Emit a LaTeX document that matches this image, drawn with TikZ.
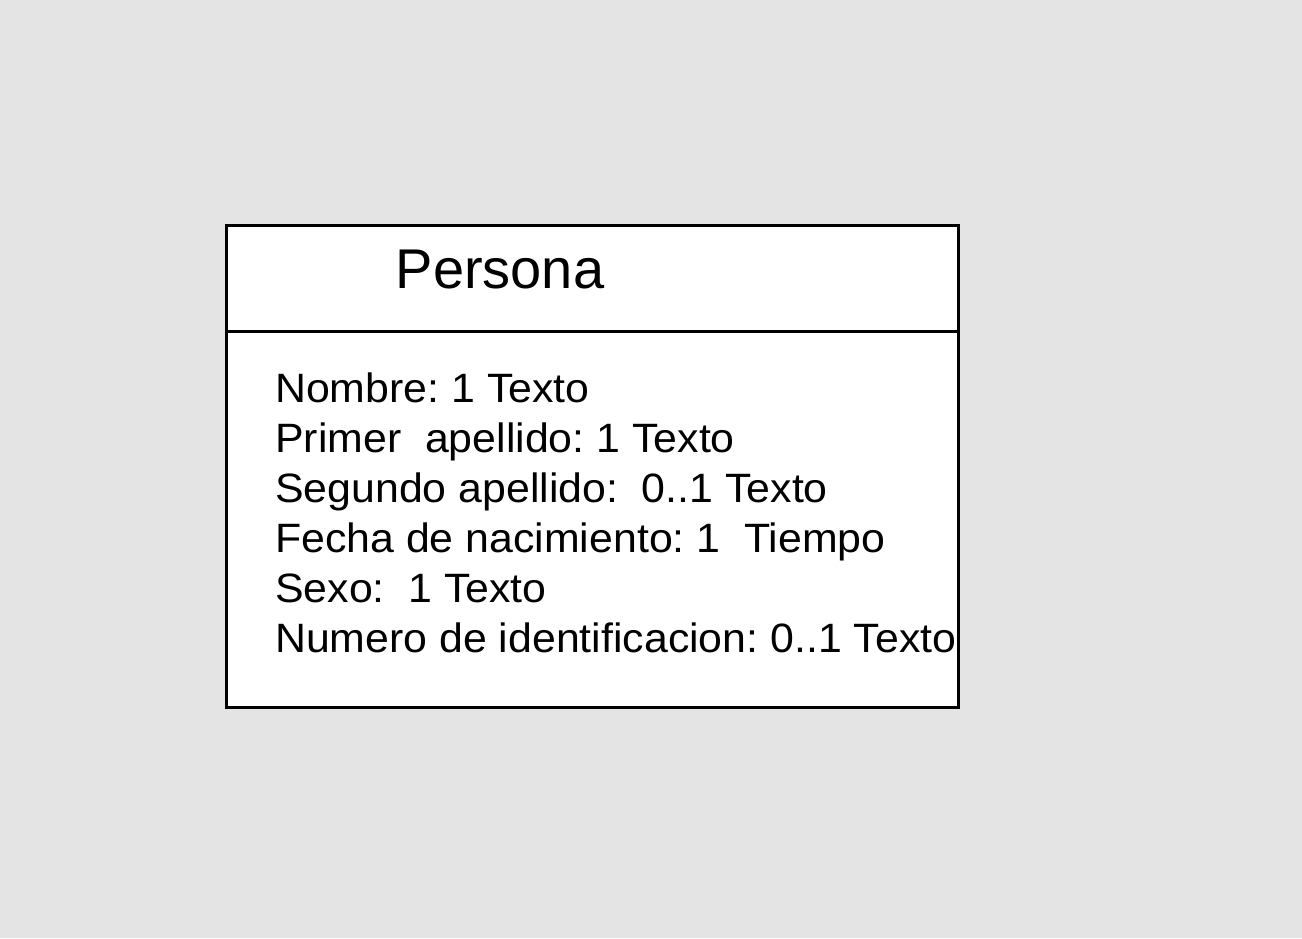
\documentclass[tikz,border=0pt]{standalone}
\usepackage{fontspec}
\setmainfont{Liberation Sans}
\newfontfamily\bodyfont[FakeStretch=1.045]{Liberation Sans}
\definecolor{bg}{HTML}{E4E4E4}
\frenchspacing
\begin{document}
\begin{tikzpicture}[x=1pt,y=-1pt,
  attr/.style={anchor=base west,inner sep=0pt,font=\bodyfont\fontsize{41}{48}\selectfont},
  ttl/.style={anchor=base,inner sep=0pt,font=\fontsize{56}{68}\selectfont}]
\fill[bg] (0,0) rectangle (1302,938);
\useasboundingbox (0,0) rectangle (1302,938);
\node[draw=black,line width=3pt,fill=white,minimum width=732pt,minimum height=482pt,inner sep=0pt,outer sep=0pt,anchor=north west] (box) at (226,225) {};
\draw[line width=3pt] (box.west |- 0,331) coordinate (dl) -- (box.east |- 0,331) coordinate (dr);
\node[ttl] (title) at (500,288) {Persona};
\node[attr] (a1) at (275,402) {Nombre: 1 Texto};
\node[attr] (a2) at (275,452) {Primer\ \ apellido: 1 Texto};
\node[attr] (a3) at (275,502) {Segundo apellido:\ \ 0..1 Texto};
\node[attr] (a4) at (275,552) {Fecha de nacimiento: 1\ \ Tiempo};
\node[attr] (a5) at (275,602) {Sexo:\ \ 1 Texto};
\node[attr] (a6) at (275,652) {Numero de identificacion: 0..1 Texto};
\end{tikzpicture}
\end{document}
